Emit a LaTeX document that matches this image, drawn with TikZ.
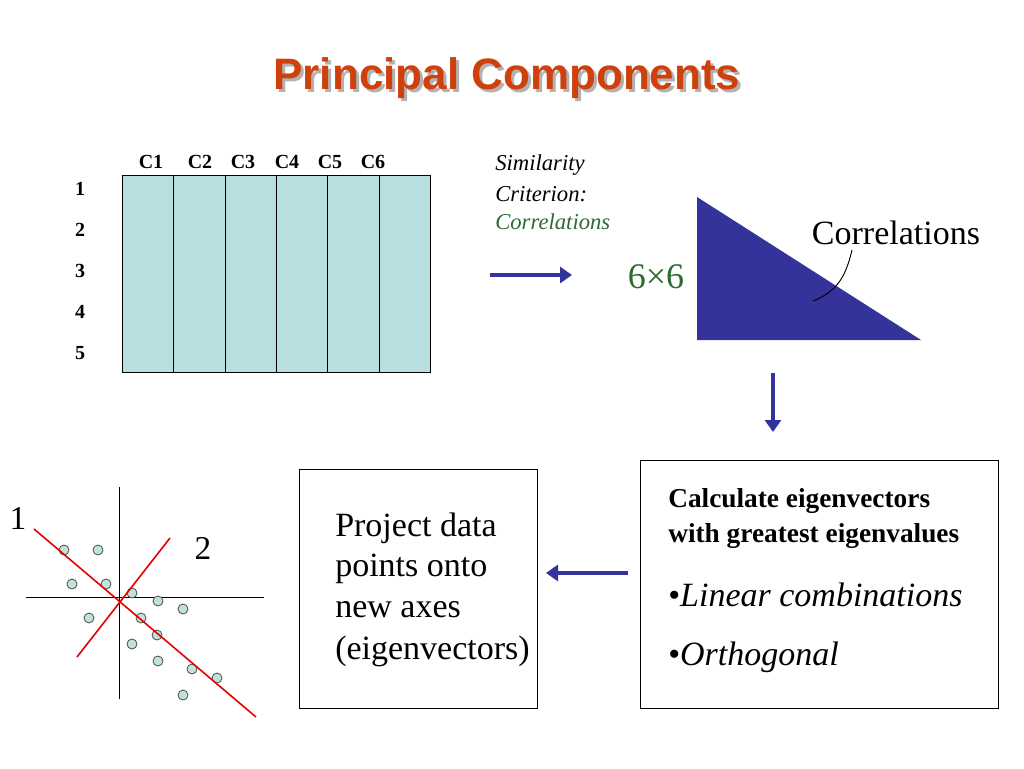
\documentclass[tikz,border=0pt]{standalone}
\usepackage{fontspec}
\usetikzlibrary{arrows.meta}
\setmainfont{Liberation Serif}
\newfontfamily\arialf{Liberation Sans}
\definecolor{tblue}{HTML}{B8DFE0}
\definecolor{dblue}{HTML}{333399}
\definecolor{ablue}{HTML}{3333A0}
\definecolor{dotc}{HTML}{BFE3DA}
\definecolor{gtxt}{HTML}{2E6B2E}
\begin{document}
\begin{tikzpicture}[x=0.75pt,y=-0.75pt,
  lbl/.style={font=\bfseries\fontsize{15}{17}\selectfont,inner sep=0},
  arr/.style={color=ablue,line width=3pt,-{Triangle[length=9pt,width=12pt]}},
  pt/.style={circle,draw=black!70,fill=dotc,inner sep=0,minimum size=7.5pt,line width=0.6pt},
  txt/.style={anchor=west,inner sep=0}]
\useasboundingbox (0,0) rectangle (1024,768);
\node[inner sep=0] (titlesh) at (510,81) {\arialf\bfseries\fontsize{33}{36}\selectfont\color{gray!60}Principal Components};
\node[inner sep=0] (title) at (507,78) {\arialf\bfseries\fontsize{33}{36}\selectfont\color[HTML]{D0400C}Principal Components};
% table
\foreach \i in {0,...,5}{
  \node[draw=black,fill=tblue,minimum width=51.3*0.75pt,minimum height=197*0.75pt,inner sep=0,anchor=north west,line width=0.8pt] (col\i) at ({122+51.3*\i},175) {};}
\foreach \t/\x in {C1/151,C2/200,C3/243,C4/287,C5/330,C6/373}{\node[lbl] (h\t) at (\x,162) {\t};}
\foreach \r/\y in {1/189,2/230,3/271,4/312,5/353}{\node[lbl] (r\r) at (80,\y) {\r};}
\node[txt,font=\itshape\fontsize{17}{19}\selectfont] (sim) at (495,165) {Similarity};
\node[txt,font=\itshape\fontsize{17}{19}\selectfont] (cri) at (495,194) {Criterion:};
\node[txt,font=\itshape\fontsize{17}{19}\selectfont,text=gtxt] (cor) at (495,222) {Correlations};
\coordinate (a1s) at (490,275); \coordinate (a1e) at (572,275);
\draw[arr] (a1s) -- (a1e);
\node[inner sep=0,font=\fontsize{27}{30}\selectfont,text=gtxt] (six) at (656,277) {6×6};
\fill[dblue] (697,197) coordinate (t1) -- (697,340) coordinate (t2) -- (921,340) coordinate (t3) -- cycle;
\node[inner sep=0,font=\fontsize{25.5}{29}\selectfont] (corr2) at (896,233) {Correlations};
\draw[line width=0.7pt] (852,250) .. controls (845,280) and (835,292) .. (813,301);
\coordinate (a2s) at (773,373); \coordinate (a2e) at (773,432);
\draw[arr] (a2s) -- (a2e);
\node[draw,line width=0.8pt,minimum width=358*0.75pt,minimum height=248*0.75pt,anchor=north west] (calc) at (640,460) {};
\node[txt,font=\bfseries\fontsize{20.5}{23}\selectfont] (c1) at (668,501) {Calculate eigenvectors};
\node[txt,font=\bfseries\fontsize{20.5}{23}\selectfont] (c2) at (668,536) {with greatest eigenvalues};
\node[txt,font=\fontsize{25.5}{29}\selectfont] (c3) at (668,595) {•\textit{Linear combinations}};
\node[txt,font=\fontsize{25.5}{29}\selectfont] (c4) at (668,657) {•\textit{Orthogonal}};
\coordinate (a3s) at (628,573); \coordinate (a3e) at (546,573);
\draw[arr] (a3s) -- (a3e);
\node[draw,line width=0.8pt,minimum width=238*0.75pt,minimum height=239*0.75pt,anchor=north west] (proj) at (299,469) {};
\foreach \t/\y/\n in {Project data/528/p1,points onto/569/p2,new axes/610/p3,(eigenvectors)/651/p4}{
  \node[txt,font=\fontsize{25.5}{29}\selectfont] (\n) at (335,\y) {\t};}
% scatter
\coordinate (v1) at (119,487); \coordinate (v2) at (119,699);
\coordinate (h1) at (26,597); \coordinate (h2) at (264,597);
\draw[line width=0.7pt] (v1) -- (v2); \draw[line width=0.7pt] (h1) -- (h2);
\coordinate (e1a) at (34,529); \coordinate (e1b) at (256,717);
\coordinate (e2a) at (77,657); \coordinate (e2b) at (170,538);
\foreach \x/\y [count=\k] in {64/550,98/550,72/584,106/584,132/593,158/601,183/609,89/618,141/618,157/635,132/644,158/661,192/669,217/678,183/695}{
  \node[pt] (d\k) at (\x,\y) {};}
\draw[red!90!black,line width=1.2pt] (e1a) -- (e1b);
\draw[red!90!black,line width=1.2pt] (e2a) -- (e2b);
\node[inner sep=0,font=\fontsize{25}{28}\selectfont] (l1) at (18,518) {1};
\node[inner sep=0,font=\fontsize{25}{28}\selectfont] (l2) at (203,548) {2};
\end{tikzpicture}
\end{document}
